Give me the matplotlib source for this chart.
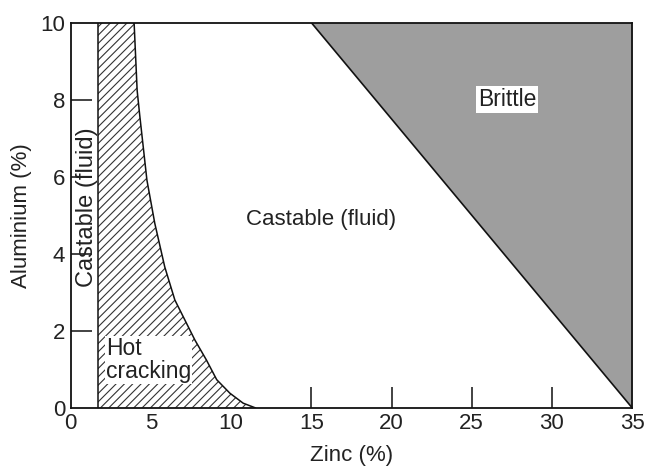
"""
Zn-Al castability map: hot cracking, castable and brittle regions.
"""

import matplotlib.pyplot as plt

# -- Data ----------------------------------------------------------------------

# left edge of the hot cracking band (constant Zn %)
HOT_LEFT_ZN = 1.7

# boundary between hot cracking and castable (fluid)
curve_al = [10.0, 8.24, 7.6, 5.91, 4.79, 3.66, 2.80, 1.76, 1.24, 0.73, 0.38, 0.12, 0.0]
curve_zn = [3.95, 4.14, 4.3, 4.75, 5.24, 5.86, 6.49, 7.74, 8.46, 9.1, 9.92, 10.75, 11.5]

# brittle boundary: straight line
brittle_zn = [15.0, 35.0]
brittle_al = [10.0, 0.0]

x_ticks = [0, 5, 10, 15, 20, 25, 30, 35]
y_ticks = [0, 2, 4, 6, 8, 10]

# tick marks that are hidden in the original (covered by regions / corners)
hidden_x_marks = [0, 5, 10, 35]
hidden_y_marks = [0, 10]

plt.rcParams["font.family"] = ["Liberation Sans", "DejaVu Sans"]
plt.rcParams["hatch.linewidth"] = 0.8
plt.rcParams["hatch.color"] = "#333333"

# -- Plot ----------------------------------------------------------------------

fig = plt.figure(figsize=(6.49, 4.72), dpi=100)
ax = fig.add_axes([0.109, 0.136, 0.865, 0.816])

# hot cracking (hatched)
ax.fill_betweenx(curve_al, HOT_LEFT_ZN, curve_zn, facecolor="white",
                 hatch="////", linewidth=0)
ax.plot(curve_zn, curve_al, color="#111111", lw=1.1)
ax.axvline(HOT_LEFT_ZN, color="#111111", lw=1.1)

# brittle (grey)
ax.fill_between(brittle_zn, brittle_al, 10, color="#9e9e9e", linewidth=0)
ax.plot(brittle_zn, brittle_al, color="#111111", lw=1.2)

ax.set_xlim(0, 35)
ax.set_ylim(0, 10)
ax.set_xticks(x_ticks)
ax.set_yticks(y_ticks)
ax.tick_params(direction="in", length=15, width=1.2, labelsize=16,
               colors="#222222", pad=4)
for val, tick in zip(x_ticks, ax.xaxis.get_major_ticks()):
    if val in hidden_x_marks:
        tick.tick1line.set_visible(False)
for val, tick in zip(y_ticks, ax.yaxis.get_major_ticks()):
    if val in hidden_y_marks:
        tick.tick1line.set_visible(False)
for s in ax.spines.values():
    s.set_linewidth(1.3)
    s.set_color("#111111")

ax.set_xlabel("Zinc (%)", fontsize=16, color="#222222", labelpad=8)
ax.set_ylabel("Aluminium (%)", fontsize=16, color="#222222", labelpad=6)

# region labels
ax.text(1.0, 5.2, "Castable (fluid)", rotation=90, ha="center", va="center",
        fontsize=17, color="#222222")
ax.text(2.2, 1.24, "Hot\ncracking", ha="left", va="center", fontsize=16.5,
        color="#222222", linespacing=1.05,
        bbox=dict(facecolor="white", edgecolor="none", pad=0.5))
ax.text(15.6, 4.9, "Castable (fluid)", ha="center", va="center",
        fontsize=16, color="#222222")
ax.text(27.2, 8.0, "Brittle", ha="center", va="center", fontsize=16.5,
        color="#222222", bbox=dict(facecolor="white", edgecolor="none", pad=1.5))

plt.savefig("out.png", dpi=100)
